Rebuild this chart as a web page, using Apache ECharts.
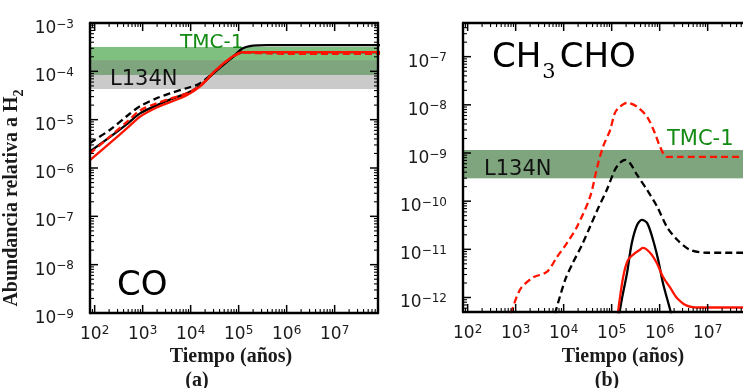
<!DOCTYPE html>
<html>
<head>
<meta charset="utf-8">
<script src="https://cdn.jsdelivr.net/npm/echarts@6/dist/echarts.min.js"></script>
<style>html,body{margin:0;padding:0;background:#fff;}#c{width:743px;height:388px;}</style>
</head>
<body>
<div id="c"></div>
<script>
// ---------- axis ranges & tick labels ----------
const xMin = 80, xMax = 8e7;
const xTicks = [1e2, 1e3, 1e4, 1e5, 1e6, 1e7];
const coYMin = 1e-9, coYMax = 1e-3;
const coYTicks = [1e-9, 1e-8, 1e-7, 1e-6, 1e-5, 1e-4, 1e-3];
const acYMin = 5e-13, acYMax = 5e-7;
const acYTicks = [1e-12, 1e-11, 1e-10, 1e-9, 1e-8, 1e-7];

// ---------- observational bands ----------
const coTMC1 = [8.4e-5, 3.2e-4];
const coL134N = [4.3e-5, 1.7e-4];
const acTMC1 = [3.0e-10, 1.16e-9];
const acL134N = [3.0e-10, 1.16e-9];

// ---------- panel (a) CO ----------
const coTime = [80, 210, 500, 880, 2000, 3700, 8300, 15500, 35000, 76000, 123000, 200000, 390000, 1e6, 1e7, 1e8];
const coBlackSolid = [2.2e-6, 4.4e-6, 8.5e-6, 1.35e-5, 2.0e-5, 2.6e-5, 3.5e-5, 5.0e-5, 1.05e-4, 2.0e-4, 3.0e-4, 3.4e-4, 3.5e-4, 3.5e-4, 3.5e-4, 3.5e-4];
const coBlackDash  = [3.3e-6, 6.2e-6, 1.25e-5, 1.9e-5, 2.8e-5, 3.5e-5, 4.5e-5, 5.6e-5, 1.08e-4, 2.0e-4, 2.5e-4, 2.5e-4, 2.5e-4, 2.5e-4, 2.5e-4, 2.5e-4];
const coRedSolid   = [1.45e-6, 3.3e-6, 7.0e-6, 1.15e-5, 1.8e-5, 2.3e-5, 3.2e-5, 4.8e-5, 1.1e-4, 2.05e-4, 2.5e-4, 2.5e-4, 2.5e-4, 2.5e-4, 2.5e-4, 2.5e-4];
const coRedDash    = [2.0e-6, 4.5e-6, 9.5e-6, 1.55e-5, 2.2e-5, 2.7e-5, 3.5e-5, 5.0e-5, 1.1e-4, 2.0e-4, 2.45e-4, 2.4e-4, 2.35e-4, 2.3e-4, 2.3e-4, 2.3e-4];

// ---------- panel (b) CH3CHO ----------
const acRedDashT = [800, 1230, 2290, 4470, 7240, 11700, 19000, 35500, 50000, 66000, 93000, 117000, 148000, 209000, 339000, 550000, 794000, 1.02e6, 1.41e6, 2.6e6, 1e8];
const acRedDashV = [4.6e-13, 1.45e-12, 2.6e-12, 3.4e-12, 6.9e-12, 1.35e-11, 2.95e-11, 1.23e-10, 5.1e-10, 1.35e-9, 3.0e-9, 6.8e-9, 9.1e-9, 1.1e-8, 9.1e-9, 5.6e-9, 2.6e-9, 1.35e-9, 8.3e-10, 8.3e-10, 8.3e-10];
const acBlackDashT = [6600, 10700, 15500, 24000, 35500, 52500, 79000, 117000, 148000, 190000, 240000, 339000, 550000, 891000, 1.41e6, 2.29e6, 4.27e6, 9.8e6, 1e8];
const acBlackDashV = [4.6e-13, 2.3e-12, 5.2e-12, 1.23e-11, 2.95e-11, 7.2e-11, 1.7e-10, 4.5e-10, 6.2e-10, 7.2e-10, 6.2e-10, 3.5e-10, 1.7e-10, 7.6e-11, 2.95e-11, 1.6e-11, 9.8e-12, 8.5e-12, 8.5e-12];
const acBlackSolidT = [141000, 162000, 209000, 263000, 339000, 427000, 550000, 724000, 933000, 1.17e6, 1.66e6, 1.8e6];
const acBlackSolidV = [4.0e-13, 8.9e-13, 3.2e-12, 1.35e-11, 3.2e-11, 4.1e-11, 3.5e-11, 1.6e-11, 6.0e-12, 2.0e-12, 5.5e-13, 4.0e-13];
const acRedSolidT = [132000, 174000, 219000, 282000, 389000, 447000, 631000, 871000, 1.17e6, 1.66e6, 2.29e6, 3.7e6, 6.9e6, 1e8];
const acRedSolidV = [4.0e-13, 2.7e-12, 6.0e-12, 7.8e-12, 9.8e-12, 1.07e-11, 8.5e-12, 5.2e-12, 2.7e-12, 1.6e-12, 9.8e-13, 6.8e-13, 6.2e-13, 6.2e-13];

// ---------- helpers ----------
const lg = Math.log10;
function minorTicks(lo, hi) {          // 2..9 x 10^k inside (lo, hi)
  const out = [];
  for (let e = Math.floor(lg(lo)) - 1; e <= Math.ceil(lg(hi)); e++) {
    for (let m = 2; m <= 9; m++) {
      const v = m * Math.pow(10, e);
      if (v > lo * 1.00001 && v < hi * 0.99999) out.push(v);
    }
  }
  return out;
}
const supRich = {
  b: { fontFamily: 'DejaVu Sans', fontSize: 17, color: '#1a1a1a', lineHeight: 20, verticalAlign: 'middle' },
  s: { fontFamily: 'DejaVu Sans', fontSize: 12, color: '#1a1a1a', lineHeight: 8, verticalAlign: 'top' }
};
function powLabel(v) {
  const e = Math.round(lg(v));
  return '{b|10}{s|' + (e < 0 ? '\u2212' : '') + Math.abs(e) + '}';
}
const spine = { show: true, lineStyle: { color: '#000', width: 2.4 } };

function xAxes(gi, ticks) {
  return [
    { type: 'log', gridIndex: gi, position: 'bottom', min: xMin, max: xMax, z: 10, splitLine: { show: false },
      axisLine: spine, axisTick: { show: false },
      axisLabel: { show: true, customValues: ticks, margin: 12, formatter: powLabel, rich: supRich } },
    { type: 'log', gridIndex: gi, position: 'top', min: xMin, max: xMax, z: 10, splitLine: { show: false },
      axisLine: spine, axisTick: { show: false }, axisLabel: { show: false } }
  ];
}
function yAxes(gi, mn, mx, ticks) {
  return [
    { type: 'log', gridIndex: gi, position: 'left', min: mn, max: mx, z: 10, splitLine: { show: false },
      axisLine: spine, axisTick: { show: false },
      axisLabel: { show: true, customValues: ticks, margin: 16, padding: [11, 0, 0, 0], formatter: powLabel, rich: supRich } },
    { type: 'log', gridIndex: gi, position: 'right', min: mn, max: mx, z: 10, splitLine: { show: false },
      axisLine: spine, axisTick: { show: false }, axisLabel: { show: false } }
  ];
}
function line(xi, yi, times, vals, color, dashed, z) {
  return {
    type: 'line', xAxisIndex: xi, yAxisIndex: yi,
    data: times.map((t, i) => [t, vals[i]]),
    symbol: 'none', showSymbol: false, smooth: 0.3, clip: true, silent: true, z: z,
    lineStyle: { color: color, width: 2.3, type: dashed ? [7, 4] : 'solid' }
  };
}
function bands(tmc, l134) {
  return {
    silent: true,
    data: [
      [{ yAxis: tmc[0], itemStyle: { color: 'rgba(0,128,0,0.5)' } }, { yAxis: tmc[1] }],
      [{ yAxis: l134[0], itemStyle: { color: 'rgba(128,128,128,0.42)' } }, { yAxis: l134[1] }]
    ]
  };
}
const RED = '#ff1400', BLACK = '#000';

const s0 = line(0, 0, coTime, coBlackDash, BLACK, true, 3);
s0.markArea = bands(coTMC1, coL134N);
const s4 = line(2, 2, acBlackDashT, acBlackDashV, BLACK, true, 3);
s4.markArea = bands(acTMC1, acL134N);

const serifTitle = { fontFamily: 'Liberation Serif', fontWeight: 'bold', fontSize: 20, fill: '#1a1a1a' };
function txt(x, y, text, style, align) {
  return { type: 'text', x: x, y: y, silent: true, z: 100,
    style: Object.assign({ text: text, textAlign: align || 'left', textVerticalAlign: 'middle' }, style) };
}
const yTitle = txt(19, 198, '{t|Abundancia relativa a H}{u|2}', {
  rich: {
    t: { fontFamily: 'Liberation Serif', fontWeight: 'bold', fontSize: 20, fill: '#1a1a1a', lineHeight: 24, verticalAlign: 'top' },
    u: { fontFamily: 'Liberation Serif', fontWeight: 'bold', fontSize: 14, fill: '#1a1a1a', lineHeight: 34, verticalAlign: 'middle' }
  }
}, 'center');
yTitle.rotation = Math.PI / 2;

const option = {
  animation: false,
  backgroundColor: '#fff',
  grid: [
    { left: 90, top: 23, width: 288, height: 290, outerBoundsMode: 'none', containLabel: false },
    { left: 463, top: 23, width: 288, height: 289, outerBoundsMode: 'none', containLabel: false }
  ],
  xAxis: xAxes(0, xTicks).concat(xAxes(1, xTicks)),
  yAxis: yAxes(0, coYMin, coYMax, coYTicks).concat(yAxes(1, acYMin, acYMax, acYTicks)),
  series: [
    s0,
    line(0, 0, coTime, coBlackSolid, BLACK, false, 4),
    line(0, 0, coTime, coRedDash, RED, true, 5),
    line(0, 0, coTime, coRedSolid, RED, false, 6),
    s4,
    line(2, 2, acBlackSolidT, acBlackSolidV, BLACK, false, 4),
    line(2, 2, acRedDashT, acRedDashV, RED, true, 5),
    line(2, 2, acRedSolidT, acRedSolidV, RED, false, 6)
  ],
  graphic: [
    yTitle,
    txt(231, 357, 'Tiempo (años)', serifTitle, 'center'),
    txt(623, 357, 'Tiempo (años)', serifTitle, 'center'),
    txt(197, 381, '(a)', serifTitle, 'center'),
    txt(607, 381, '(b)', serifTitle, 'center'),
    txt(180, 43, 'TMC-1', { fontFamily: 'DejaVu Sans', fontSize: 20, fill: '#138a13' }),
    txt(110, 80, 'L134N', { fontFamily: 'DejaVu Sans', fontSize: 21, fill: '#111' }),
    txt(117, 286, 'CO', { fontFamily: 'DejaVu Sans', fontSize: 34, fill: '#000' }),
    txt(667, 140, 'TMC-1', { fontFamily: 'DejaVu Sans', fontSize: 21, fill: '#138a13' }),
    txt(484, 170, 'L134N', { fontFamily: 'DejaVu Sans', fontSize: 21, fill: '#111' }),
    { type: 'text', x: 492, y: 41, silent: true, z: 100,
      style: { text: '{a|CH}{s|3}{a|CHO}', textVerticalAlign: 'top',
        rich: {
          a: { fontFamily: 'DejaVu Sans', fontSize: 34, fill: '#000', lineHeight: 34, verticalAlign: 'top' },
          s: { fontFamily: 'DejaVu Serif', fontSize: 21, fill: '#000', lineHeight: 64, verticalAlign: 'middle', padding: [0, 4, 0, 1] }
        } } }
  ]
};

const chart = echarts.init(document.getElementById('c'), null, { renderer: 'canvas' });
chart.setOption(option);

// inward tick marks (filled slivers) on all four sides, placed through the axes' own scales
function tickEls(xi, yi, yLo, yHi, yMajor) {
  const f = { xAxisIndex: xi, yAxisIndex: yi };
  const lb = chart.convertToPixel(f, [xMin, yLo]);
  const rt = chart.convertToPixel(f, [xMax, yHi]);
  const l = lb[0], b = lb[1], r = rt[0], t = rt[1];
  const yMid = Math.sqrt(yLo * yHi), xMid = Math.sqrt(xMin * xMax);
  const els = [];
  const rect = (x, y, w, h) => els.push({ type: 'rect', silent: true, z: 60,
    shape: { x: x, y: y, width: w, height: h }, style: { fill: '#000' } });
  const xt = (v, len, w) => {
    const px = chart.convertToPixel(f, [v, yMid])[0];
    rect(px - w / 2, b - len, w, len); rect(px - w / 2, t, w, len);
  };
  const yt = (v, len, w) => {
    const py = chart.convertToPixel(f, [xMid, v])[1];
    rect(l, py - w / 2, len, w); rect(r - len, py - w / 2, len, w);
  };
  xTicks.forEach(v => xt(v, 8, 1.5));
  minorTicks(xMin, xMax).forEach(v => xt(v, 4, 1.1));
  yMajor.forEach(v => yt(v, 8, 1.5));
  minorTicks(yLo, yHi).forEach(v => yt(v, 4, 1.1));
  return els;
}
option.graphic = option.graphic
  .concat(tickEls(0, 0, coYMin, coYMax, coYTicks))
  .concat(tickEls(2, 2, acYMin, acYMax, acYTicks));
chart.setOption(option, true);
</script>
</body>
</html>
